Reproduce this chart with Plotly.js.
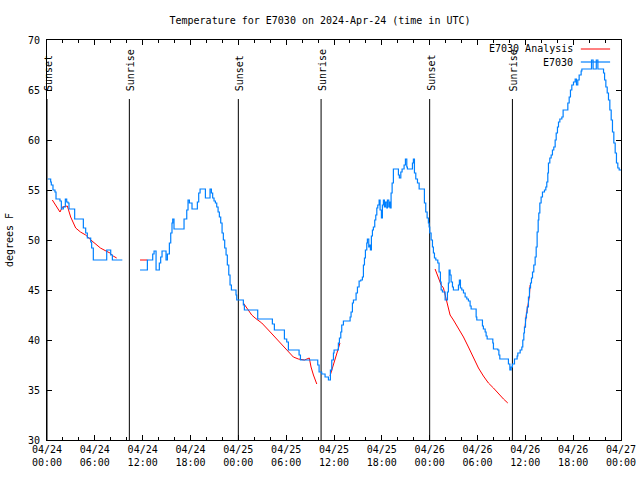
<!DOCTYPE html>
<html><head><meta charset="utf-8">
<script src="https://cdn.plot.ly/plotly-3.0.1.min.js"></script>
<style>html,body{margin:0;padding:0;background:#fff}#chart{width:640px;height:480px}</style>
</head><body><div id="chart"></div>
<script>
// Hours since 2024-04-24 00:00 UTC; null = gap in the record
const blueHours = [0.1,0.46,0.54,0.75,1.0,1.13,1.63,1.8,2.05,2.3,2.47,2.63,2.76,3.47,4.56,4.85,5.06,5.48,5.6,5.81,7.49,7.99,8.2,9.45,null,
 11.67,12.59,13.26,13.43,13.68,14.09,14.26,14.43,14.93,15.1,15.35,15.52,15.68,15.77,15.93,17.19,17.53,17.69,17.86,18.19,18.86,19.03,19.2,19.87,20.45,20.62,20.78,20.95,21.12,21.29,21.46,21.62,21.79,21.96,22.12,22.29,22.46,22.62,22.8,22.96,23.13,23.71,23.8,
 24.63,24.76,26.43,28.27,28.52,29.78,30.07,30.28,31.62,31.79,33.96,34.13,34.46,34.88,35.3,35.55,35.72,35.93,36.01,36.55,36.68,36.85,36.97,37.18,38.02,38.14,38.31,38.44,38.77,38.94,39.15,39.36,39.56,39.69,39.82,39.94,40.11,40.19,40.36,40.44,40.57,40.69,40.82,40.94,41.11,41.24,41.37,41.49,41.66,41.78,41.95,42.07,42.2,42.32,42.45,42.62,42.7,42.87,42.95,43.04,43.16,43.29,43.45,44.08,44.2,44.38,44.54,44.79,44.96,45.13,45.21,45.84,45.96,46.09,46.26,46.47,46.68,47.34,47.51,47.68,47.84,47.93,
 48.01,48.18,48.35,48.47,48.6,48.77,49.02,49.18,49.35,49.44,49.6,49.94,50.23,50.35,50.44,50.56,50.69,50.86,50.98,51.61,51.73,51.86,52.03,52.24,52.45,52.66,52.86,53.07,53.2,53.83,53.91,54.62,54.74,54.96,55.08,55.21,55.92,56.0,56.55,56.68,56.8,57.88,58.06,58.22,58.38,58.64,58.97,59.06,59.35,59.56,59.68,59.81,59.89,60.02,60.14,60.23,60.39,60.52,60.65,60.77,60.9,61.06,61.23,61.36,61.48,61.61,61.69,61.82,61.98,62.15,62.4,62.57,62.69,62.82,62.9,63.07,63.24,63.4,63.57,63.74,63.87,64.03,64.16,64.33,64.58,64.74,65.33,65.5,65.66,65.83,66.04,66.25,66.41,66.58,66.75,67.0,67.09,68.3,68.5,68.9,69.1,69.81,69.94,70.1,70.27,70.43,70.6,70.77,70.93,71.1,71.27,71.43,71.6,71.77,72.0];
const blueTemps = [56.1,55.8,55.5,55.0,54.8,54.1,53.9,53.1,53.3,54.1,53.8,53.7,53.1,52.1,51.2,50.7,50.2,49.8,49.2,48.0,49.0,48.5,48.0,48.0,null,
 47.0,48.0,48.6,48.9,47.0,47.7,48.3,48.9,48.0,48.6,49.7,50.7,51.7,52.1,51.1,52.1,53.0,54.0,53.7,53.1,53.8,54.7,55.1,54.2,55.1,54.7,54.2,53.9,53.7,53.3,52.8,52.3,51.7,50.7,50.0,49.2,48.5,47.5,46.5,45.5,45.0,44.5,44.0,
 43.5,43.0,42.1,41.6,41.0,40.1,39.8,39.0,38.5,38.0,37.5,36.8,36.6,36.3,36.0,37.0,38.0,38.7,39.0,39.7,40.2,40.8,41.5,41.9,42.3,42.8,43.7,44.0,44.7,45.3,45.9,46.0,46.3,47.5,48.2,49.0,49.7,50.1,49.3,49.5,49.0,50.4,51.0,51.3,52.0,52.5,53.2,53.5,54.0,53.0,52.2,53.5,54.0,53.3,53.8,53.2,54.0,53.3,53.8,53.2,54.7,55.7,57.1,56.5,56.2,56.8,57.1,57.5,58.1,57.3,57.1,57.7,58.1,56.7,56.1,55.7,55.1,53.7,52.8,52.2,51.7,51.3,
 50.7,50.0,49.3,48.7,48.2,48.0,47.7,46.8,45.8,45.0,44.8,44.0,44.8,45.7,47.0,46.5,45.8,45.3,45.0,45.5,46.0,45.2,45.0,44.7,44.3,44.1,43.9,43.4,43.1,42.3,42.0,41.4,41.1,40.8,40.4,40.1,39.7,39.1,39.0,38.5,38.1,37.6,37.0,37.3,37.6,38.1,38.4,38.7,39.0,39.3,40.0,40.7,41.3,42.2,42.7,43.3,44.3,45.2,45.7,46.2,46.8,47.5,48.3,49.3,50.8,52.0,52.7,53.7,54.3,54.8,55.0,55.3,55.8,56.7,57.7,58.2,58.5,59.0,59.3,60.0,60.7,61.3,61.8,62.1,62.3,63.0,63.7,64.3,65.0,65.5,65.8,66.1,65.5,66.0,66.5,66.9,67.1,68.0,67.1,68.0,67.1,66.7,66.0,65.3,64.7,64.0,63.0,62.0,60.8,59.7,58.7,57.7,57.2,57.0,57.0];

const redHours = [0.67,1.0,1.3,1.63,1.93,2.55,2.97,3.6,4.2,4.85,5.5,6.1,6.7,7.4,7.9,8.3,8.74,null,
 11.67,12.6,null,
 24.63,25.35,25.68,26.1,26.5,26.94,27.77,28.6,29.45,30.28,30.9,31.53,32.3,32.9,33.12,33.42,33.84,null,
 35.5,35.9,36.3,36.75,null,
 48.68,49.1,49.44,49.73,49.94,50.14,50.35,50.56,50.98,51.61,52.24,52.86,53.49,54.12,54.74,55.37,56.0,56.63,57.26,57.8,null,
 59.95,60.1,60.5,60.6];
const redTemps = [54.0,53.6,53.2,52.8,53.3,53.4,52.3,51.2,50.8,50.5,50.0,49.6,49.2,48.9,48.7,48.4,48.2,null,
 48.0,48.0,null,
 43.7,42.8,42.5,42.2,42.0,41.7,41.0,40.3,39.5,38.8,38.3,38.1,38.0,38.2,37.3,36.5,35.6,null,
 36.4,37.5,38.6,39.7,null,
 47.1,46.3,45.5,45.2,44.5,44.0,43.3,42.5,42.0,41.2,40.3,39.3,38.3,37.2,36.4,35.7,35.2,34.6,34.1,33.7,null,
 41.2,42.4,44.3,45.5];

const sunEventHours = [0.0, 10.33, 24.0, 34.38, 48.0, 58.38];
const sunEventLabels = ['Sunset','Sunrise','Sunset','Sunrise','Sunset','Sunrise'];
const seriesNames = ['E7030 Analysis','E7030'];
const seriesColors = ['#ff0000','#0080ff'];
const titleText = 'Temperature for E7030 on 2024-Apr-24 (time in UTC)';
const yTitle = 'degrees F';

const baseMs = Date.UTC(2024,3,24);
function toDate(h){ if(h===null) return null; return new Date(baseMs + h*3600000).toISOString().replace('T',' ').slice(0,19); }

const mono = 'DejaVu Sans Mono, monospace';
const traces = [
 {x: redHours.map(toDate), y: redTemps, type:'scatter', mode:'lines', name:seriesNames[0], line:{color:seriesColors[0], width:1}, connectgaps:false},
 {x: blueHours.map(toDate), y: blueTemps, type:'scatter', mode:'lines', name:seriesNames[1], line:{color:seriesColors[1], width:1.2, shape:'hv'}, connectgaps:false}
];

const shapes = [];
const annotations = [];
sunEventHours.forEach((h,i)=>{
  shapes.push({type:'line', xref:'x', yref:'paper', x0:toDate(h), x1:toDate(h), y0:0, y1:0.8525, line:{color:'#000', width:1}, layer:'below'});
  annotations.push({xref:'x', yref:'paper', x:toDate(h), y:0.87, xanchor:'center', yanchor:'bottom', textangle:-90, text:sunEventLabels[i], showarrow:false, font:{family:mono, size:10, color:'#000'}, borderpad:0, xshift:1});
});
// gnuplot-style legend: text on the left, line sample on the right
const legY = [0.9775, 0.945];
seriesNames.forEach((n,i)=>{
  annotations.push({xref:'paper', yref:'paper', x:0.918, y:legY[i], xanchor:'right', yanchor:'middle', text:n, showarrow:false, font:{family:mono, size:10, color:'#000'}, borderpad:0});
  shapes.push({type:'line', xref:'paper', yref:'paper', x0:0.930, x1:0.981, y0:legY[i], y1:legY[i], line:{color:seriesColors[i], width:i===0?1:1.2}});
});

const layout = {
  width:640, height:480,
  margin:{l:47, r:19, t:40, b:40},
  paper_bgcolor:'#fff', plot_bgcolor:'#fff',
  showlegend:false,
  font:{family:mono, size:10, color:'#000'},
  title:{text:titleText, x:0.5, xref:'container', y:0.958, yref:'container', yanchor:'middle', font:{family:mono, size:10, color:'#000'}},
  xaxis:{type:'date', range:[toDate(0), toDate(72)], tick0:toDate(0), dtick:6*3600000, tickformat:'%m/%d<br>%H:%M',
    showgrid:false, zeroline:false, showline:true, linecolor:'#000', linewidth:1, mirror:'allticks',
    ticks:'inside', ticklen:5, tickcolor:'#000', tickfont:{family:mono, size:10, color:'#000'},
    minor:{dtick:2*3600000, ticks:'inside', ticklen:3, tickcolor:'#000', showgrid:false}},
  yaxis:{range:[30,70], dtick:5, showgrid:false, zeroline:false, showline:true, linecolor:'#000', linewidth:1, mirror:'allticks',
    ticks:'inside', ticklen:5, tickcolor:'#000', tickfont:{family:mono, size:10, color:'#000'}, ticklabelstandoff:4,
    title:{text:yTitle, standoff:12, font:{family:mono, size:10, color:'#000'}}},
  shapes:shapes, annotations:annotations
};
Plotly.newPlot('chart', traces, layout, {displayModeBar:false, staticPlot:true});
</script></body></html>
